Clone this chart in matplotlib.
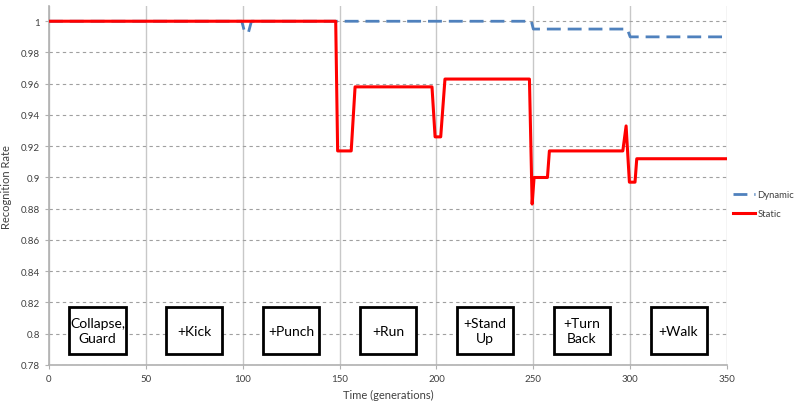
import matplotlib
matplotlib.use("Agg")
import matplotlib.pyplot as plt
from matplotlib.patches import Rectangle
from matplotlib.ticker import FuncFormatter, MultipleLocator

# data
static_t = [0, 148, 149, 156, 158, 197.7, 199.3, 202.2, 204.4, 248, 249.4, 250.4,
            257.3, 258.3, 296.2, 297.9, 299.6, 302.5, 303.4, 350]
static_v = [1.0, 1.0, 0.917, 0.917, 0.958, 0.958, 0.926, 0.926, 0.963, 0.963, 0.883, 0.900,
            0.900, 0.917, 0.917, 0.933, 0.897, 0.897, 0.912, 0.912]

dynamic_t = [0, 99.5, 101, 103, 104.5, 249, 250, 298.5, 300, 350]
dynamic_v = [1.0, 1.0, 0.993, 0.993, 1.0, 1.0, 0.995, 0.995, 0.990, 0.990]

phase_starts = [0, 50, 100, 150, 200, 250, 300]
phase_labels = ["Collapse,\nGuard", "+Kick", "+Punch", "+Run", "+Stand\nUp", "+Turn\nBack", "+Walk"]

plt.rcParams['font.family'] = ['Lato', 'DejaVu Sans']

fig = plt.figure(figsize=(8.03, 4.02), dpi=100)
ax = fig.add_axes([0.061, 0.0896, 0.8444, 0.892])

ax.plot(dynamic_t, dynamic_v, color='#4F81BD', lw=2, dashes=(5, 2.5), label='Dynamic', zorder=2)
ax.plot(static_t, static_v, color='#FF0000', lw=2.2, label='Static', zorder=3)

for s, lab in zip(phase_starts, phase_labels):
    cx = s + 25
    ax.add_patch(Rectangle((cx - 14.5, 0.787), 29, 0.0298, facecolor='white',
                           edgecolor='black', lw=2, zorder=4))
    ax.text(cx, 0.802, lab, ha='center', va='center', fontsize=10, zorder=5,
            linespacing=1.25)

ax.set_xlim(0, 350)
ax.set_ylim(0.78, 1.0095)
ax.xaxis.set_major_locator(MultipleLocator(50))
ax.yaxis.set_major_locator(MultipleLocator(0.02))
ax.yaxis.set_major_formatter(FuncFormatter(lambda v, p: '%g' % round(v, 2)))

ax.grid(axis='y', color='#A0A0A0', ls=(0, (3, 3)), lw=0.8)
ax.grid(axis='x', color='#C8C8C8', ls='-', lw=1)
ax.set_axisbelow(True)
for sp in ['top', 'right']:
    ax.spines[sp].set_visible(False)
for sp in ['left', 'bottom']:
    ax.spines[sp].set_color('#B0B0B0')
    ax.spines[sp].set_linewidth(1.2)
ax.tick_params(axis='both', labelsize=7, colors='#B0B0B0', labelcolor='#404040', length=3)

ax.set_xlabel('Time (generations)', fontsize=8, color='#404040', labelpad=4)
ax.set_ylabel('Recognition Rate', fontsize=8, color='#404040', labelpad=6)

fig.legend(loc='upper left', bbox_to_anchor=(0.902, 0.545), frameon=False, fontsize=6.8,
           handlelength=2.4, labelcolor='#404040', handletextpad=0.2, labelspacing=1.0)

fig.savefig('out.png', dpi=100)
